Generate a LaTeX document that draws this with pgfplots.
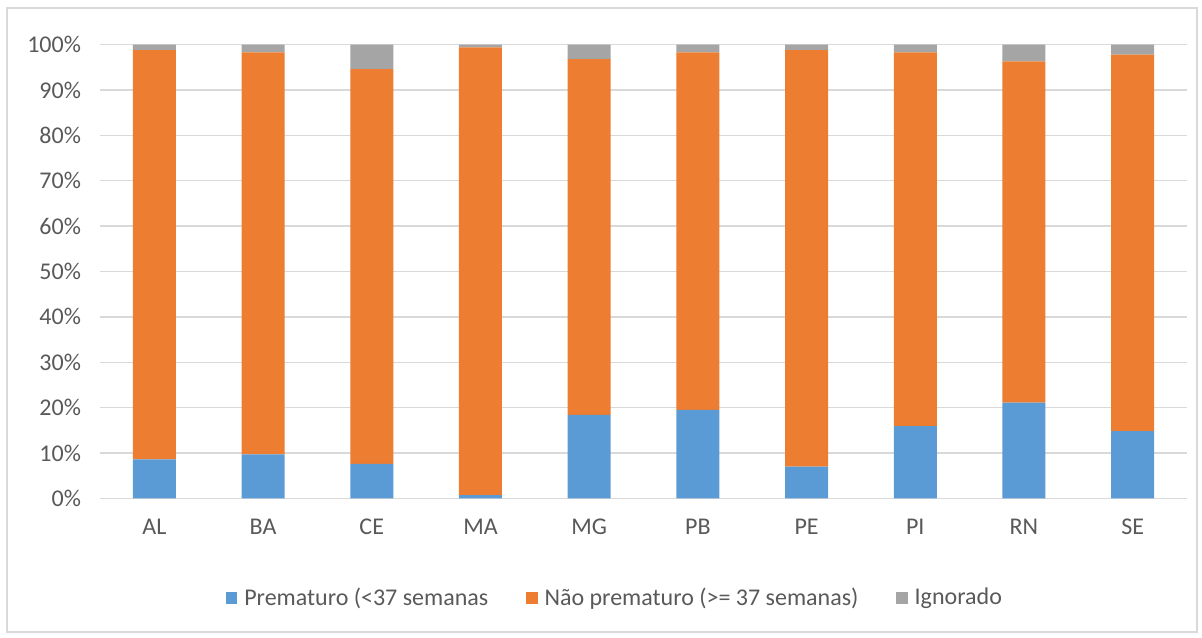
\documentclass[border=0pt]{standalone}
\usepackage{pgfplots}
\pgfplotsset{compat=1.18}
\usepackage{pgfplotstable}
\usepackage{fontspec}
\setmainfont{Carlito}
\definecolor{cblue}{HTML}{5B9BD5}
\definecolor{corange}{HTML}{ED7D31}
\definecolor{cgray}{HTML}{A5A5A5}
\definecolor{grid}{HTML}{D9D9D9}
\definecolor{txt}{HTML}{595959}
\pgfplotstableread{
x pre nao ign
0 8.6 90.2 1.2
1 9.7 88.6 1.7
2 7.6 87.0 5.4
3 0.7 98.7 0.6
4 18.4 78.4 3.2
5 19.5 78.8 1.7
6 7.0 91.8 1.2
7 15.9 82.4 1.7
8 21.1 75.2 3.7
9 14.8 83.0 2.2
}\data
\begin{document}
\begin{tikzpicture}
\begin{axis}[
  at={(0pt,0pt)}, anchor=south west,
  width=543.5pt, height=226.8pt, scale only axis,
  ybar stacked, bar width=21.5pt,
  xmin=-0.5, xmax=9.5, ymin=0, ymax=100,
  xtick=data, xticklabels={AL,BA,CE,MA,MG,PB,PE,PI,RN,SE},
  ytick={0,10,...,100},
  yticklabel={\pgfmathprintnumber{\tick}\%},
  /pgf/number format/assume math mode=true,
  ymajorgrids, grid style={draw=grid, line width=0.7pt},
  axis line style={draw=none},
  major tick length=0pt,
  tick label style={font=\fontsize{12}{14}\selectfont, text=txt},
  yticklabel style={xshift=-6pt},
  xticklabel style={yshift=-7pt},
  legend style={at={(0.4747,-0.2198)}, anchor=center, draw=none, fill=none,
    font=\fontsize{12}{14}\selectfont, text=txt, legend columns=3,
    /tikz/every even column/.append style={column sep=17pt},
    /tikz/every odd column/.append style={column sep=1.5pt}},
  legend image code/.code={\fill[#1] (0pt,-2.8pt) rectangle (5.6pt,2.8pt);},
]
\addplot[fill=cblue, draw=none] table[x=x,y=pre] {\data};
\addplot[fill=corange, draw=none] table[x=x,y=nao] {\data};
\addplot[fill=cgray, draw=none] table[x=x,y=ign] {\data};
\legend{Prematuro (<37 semanas, Não prematuro (>= 37 semanas), Ignorado}
\end{axis}
\pgfresetboundingbox
\useasboundingbox (-50pt,-69.35pt) rectangle (551pt,249.15pt);
\draw[draw=grid, line width=0.7pt] (-46.5pt,-66.85pt) rectangle (548.5pt,245.15pt);
\end{tikzpicture}
\end{document}
